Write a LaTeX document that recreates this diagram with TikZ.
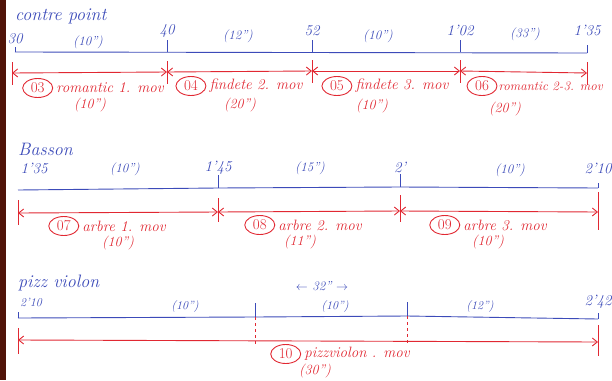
\documentclass[tikz,border=0pt]{standalone}
\usepackage{tikz}
\usetikzlibrary{positioning,arrows.meta,calc,shapes.geometric}
\definecolor{penblue}{RGB}{60,75,185}
\definecolor{penred}{RGB}{225,40,50}
\definecolor{darkedge}{RGB}{80,20,8}

\begin{document}
\begin{tikzpicture}[x=1pt, y=-1pt,
        timeline/.style={penblue, line width=0.9pt},
        span/.style={penred, line width=0.9pt,
            {Straight Barb[length=5pt,width=8pt]}-{Straight Barb[length=5pt,width=8pt]}},
        redtick/.style={penred, line width=0.9pt},
        stamp/.style={text=penblue, font=\fontsize{15}{17}\selectfont\itshape, inner sep=1pt},
        dur/.style={text=penblue, font=\fontsize{13}{15}\selectfont\itshape, inner sep=1pt},
        title/.style={text=penblue, font=\fontsize{18}{20}\selectfont\itshape, anchor=west, inner sep=0pt},
        track/.style={text=penred, font=\fontsize{15}{17}\selectfont\itshape, inner sep=1pt},
        trackdur/.style={text=penred, font=\fontsize{14}{16}\selectfont\itshape, inner sep=1pt},
        trackno/.style={draw=penred, text=penred, ellipse, line width=0.9pt,
            font=\fontsize{15}{17}\selectfont, inner sep=0pt, minimum width=30pt, minimum height=19pt}
    ]
        \useasboundingbox (0,0) rectangle (612,380);
        \fill[darkedge] (0,0) rectangle (6,380);

        % contre point
        \node[title] (contre) at (15,16) {contre point};
        \coordinate (a0) at (15,52);
        \coordinate (a1) at (167,52);
        \coordinate (a2) at (312,52);
        \coordinate (a3) at (460,52);
        \coordinate (a4) at (587,53);
        \draw[timeline] (a0) -- (a4);
        \foreach \p in {a1,a2,a3} \draw[timeline] (\p) -- ++(0,-12);
        \draw[timeline] (a0) -- ++(0,-5);
        \draw[timeline] (a4) -- ++(0,-8);
        \node[stamp, above=7pt of a0] (t30) {30};
        \node[stamp, above=13pt of a1] (t40) {40};
        \node[stamp, above=15pt of a2] (t52) {52};
        \node[stamp, above=15pt of a3] (t102) {1'02};
        \node[stamp, above=16pt of a4] (t135) {1'35};
        \node[dur] (g1) at (88,42) {(10'')};
        \node[dur] (g2) at (238,36) {(12'')};
        \node[dur] (g3) at (378,36) {(10'')};
        \node[dur] (g4) at (525,34) {(33'')};

        \coordinate (r0) at (12,73);
        \coordinate (r1) at (167,72);
        \coordinate (r2) at (312,71);
        \coordinate (r3) at (460,71);
        \coordinate (r4) at (587,73);
        \foreach \p in {r0,r1,r2,r3,r4} \draw[redtick] ($(\p)+(0,-11)$) -- ($(\p)+(0,12)$);
        \draw[span] (r0) -- (r1);
        \draw[span] (r1) -- (r2);
        \draw[span] (r2) -- (r3);
        \draw[span] (r3) -- (r4);
        \node[track] (l03) at (110,88) {romantic 1. mov};
        \node[trackno, left=2pt of l03] (n03) {03};
        \node[trackdur] (d03) at (90,105) {(10'')};
        \node[track] (l04) at (256,86) {findete 2. mov};
        \node[trackno, left=2pt of l04] (n04) {04};
        \node[trackdur] (d04) at (240,105) {(20'')};
        \node[track] (l05) at (402,86) {findete 3. mov};
        \node[trackno, left=2pt of l05] (n05) {05};
        \node[trackdur] (d05) at (372,106) {(10'')};
        \node[trackno] (n06) at (482,86) {06};
        \node[track, font=\fontsize{13}{15}\selectfont\itshape, right=0pt of n06] (l06) {romantic 2-3. mov};
        \node[trackdur] (d06) at (505,109) {(20'')};

        % Basson
        \node[title] (basson) at (18,149) {Basson};
        \coordinate (b0) at (18,190);
        \coordinate (b1) at (218,188);
        \coordinate (b2) at (400,187);
        \coordinate (b3) at (598,188);
        \draw[timeline] (b0) -- (b1) -- (b2) -- (b3);
        \foreach \p in {b1,b2} \draw[timeline] (\p) -- ++(0,-13);
        \draw[timeline] (b3) -- ++(0,-5);
        \node[stamp] (t135b) at (34,168) {1'35};
        \node[stamp, above=12pt of b1] (t145) {1'45};
        \node[stamp, above=13pt of b2] (t200) {2'};
        \node[stamp, above=13pt of b3] (t210) {2'10};
        \node[dur] (h1) at (125,169) {(10'')};
        \node[dur] (h2) at (310,168) {(15'')};
        \node[dur] (h3) at (510,170) {(10'')};

        \coordinate (s0) at (18,213);
        \coordinate (s1) at (218,212);
        \coordinate (s2) at (400,211);
        \coordinate (s3) at (598,212);
        \draw[redtick] ($(s0)+(0,-13)$) -- ($(s0)+(0,12)$);
        \draw[redtick] ($(s1)+(0,-14)$) -- ($(s1)+(0,10)$);
        \draw[redtick] ($(s2)+(0,-16)$) -- ($(s2)+(0,11)$);
        \draw[redtick] ($(s3)+(0,-20)$) -- ($(s3)+(0,18)$);
        \draw[span] (s0) -- (s1);
        \draw[span] (s1) -- (s2);
        \draw[span] (s2) -- (s3);
        \node[track] (l07) at (124,226) {arbre 1. mov};
        \node[trackno, left=2pt of l07] (n07) {07};
        \node[trackdur] (d07) at (118,243) {(10'')};
        \node[track] (l08) at (320,225) {arbre 2. mov};
        \node[trackno, left=2pt of l08] (n08) {08};
        \node[trackdur] (d08) at (300,242) {(11'')};
        \node[track] (l09) at (505,225) {arbre 3. mov};
        \node[trackno, left=2pt of l09] (n09) {09};
        \node[trackdur] (d09) at (488,242) {(10'')};

        % pizz violon
        \node[title] (pizz) at (18,283) {pizz violon};
        \node[text=penblue, font=\fontsize{13}{15}\selectfont\itshape] (total) at (322,286) {$\leftarrow$ 32'' $\rightarrow$};
        \coordinate (c0) at (18,318);
        \coordinate (c1) at (255,317);
        \coordinate (c2) at (407,316);
        \coordinate (c3) at (598,319);
        \draw[timeline] (c0) -- (c1) -- (c2) -- (c3);
        \foreach \p in {c1,c2} \draw[timeline] (\p) -- ++(0,-14);
        \draw[timeline] (c0) -- ++(0,-6);
        \draw[timeline] (c3) -- ++(0,-6);
        \node[stamp, font=\fontsize{12}{14}\selectfont\itshape] (u210) at (31,302) {2'10};
        \node[stamp] (u242) at (598,302) {2'42};
        \node[dur, font=\fontsize{12}{14}\selectfont\itshape] (k1) at (185,307) {(10'')};
        \node[dur, font=\fontsize{12}{14}\selectfont\itshape] (k2) at (335,307) {(10'')};
        \node[dur, font=\fontsize{12}{14}\selectfont\itshape] (k3) at (480,306) {(12'')};

        \coordinate (p0) at (18,340);
        \coordinate (p3) at (598,342);
        \draw[redtick] ($(p0)+(0,-12)$) -- ($(p0)+(0,14)$);
        \draw[redtick] ($(p3)+(0,-17)$) -- ($(p3)+(0,14)$);
        \draw[span] (p0) -- (p3);
        \draw[penred, line width=0.8pt, dashed] (c1) -- ($(c1 |- p0)+(0,4)$);
        \draw[penred, line width=0.8pt, dashed] (c2) -- ($(c2 |- p0)+(0,4)$);
        \node[track] (l10) at (357,354) {pizzviolon . mov};
        \node[trackno, left=2pt of l10] (n10) {10};
        \node[trackdur] (d10) at (315,371) {(30'')};
    \end{tikzpicture}
\end{document}
